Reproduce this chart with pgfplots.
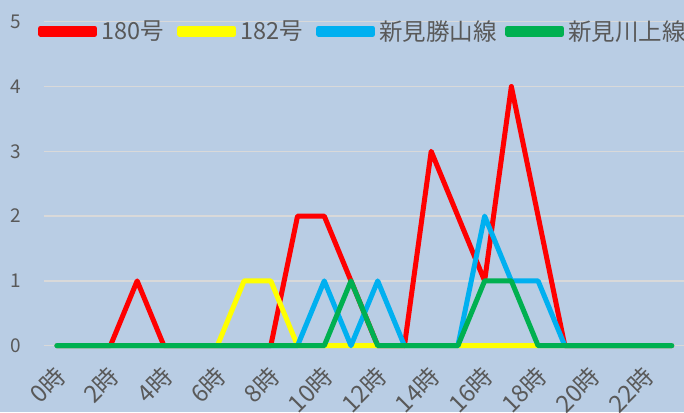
\documentclass[border=0pt]{standalone}
\usepackage{fontspec}
\setmainfont{Noto Sans CJK JP}
\usepackage{pgfplots}
\pgfplotsset{compat=1.18}
\definecolor{bg}{RGB}{185,205,228}
\definecolor{gridc}{RGB}{217,217,217}
\definecolor{txt}{RGB}{89,89,89}
\definecolor{cred}{RGB}{255,0,0}
\definecolor{cyel}{RGB}{255,255,0}
\definecolor{cblue}{RGB}{0,176,240}
\definecolor{cgreen}{RGB}{0,176,80}
\begin{document}
\begin{tikzpicture}
\fill[bg] (0,0) rectangle (684pt,412pt);
\path[use as bounding box] (0,0) rectangle (684pt,412pt);
\begin{axis}[
  at={(43.6pt,66.3pt)}, anchor=south west,
  scale only axis, width=641.5pt, height=324pt,
  xmin=-0.5, xmax=23.5, ymin=0, ymax=5,
  clip=false,
  axis line style={draw=none},
  major tick length=0pt,
  xtick={0,2,...,22},
  xticklabels={0時,2時,4時,6時,8時,10時,12時,14時,16時,18時,20時,22時},
  ytick={0,1,2,3,4,5},
  ymajorgrids, grid style={color=gridc, line width=1.3pt},
  /pgf/number format/assume math mode=true,
  yticklabel style={font=\fontsize{19}{19}\selectfont, color=txt, anchor=east, inner sep=0pt, xshift=-22pt},
  xticklabel style={font=\fontsize{24}{24}\selectfont, color=txt, xshift=-4pt, yshift=-18pt, rotate=45, anchor=north east, inner sep=0pt},
  legend columns=4,
  legend style={at={(-0.0087,0.971)}, anchor=west, draw=none, fill=none, inner sep=0pt,
    font=\fontsize{23.5}{23.5}\selectfont, text=txt,
    nodes={inner sep=0pt},
    /tikz/every odd column/.style={column sep=4pt},
    /tikz/every even column/.style={column sep=8pt}},
  legend image code/.code={\path (0pt,-3pt) rectangle (54pt,3pt);
    \draw[#1, line cap=round] (2.5pt,0pt) -- (51.5pt,0pt);},
  every axis plot/.append style={line width=5pt, line join=round, line cap=round, mark=none},
]
\addplot[cred] coordinates {(0,0)(1,0)(2,0)(3,1)(4,0)(5,0)(6,0)(7,0)(8,0)(9,2)(10,2)(11,1)(12,0)(13,0)(14,3)(15,2)(16,1)(17,4)(18,2)(19,0)(20,0)(21,0)(22,0)(23,0)};
\addlegendentry{\makebox[68pt][l]{180号}}
\addplot[cyel] coordinates {(0,0)(1,0)(2,0)(3,0)(4,0)(5,0)(6,0)(7,1)(8,1)(9,0)(10,0)(11,0)(12,0)(13,0)(14,0)(15,0)(16,0)(17,0)(18,0)(19,0)(20,0)(21,0)(22,0)(23,0)};
\addlegendentry{\makebox[68pt][l]{182号}}
\addplot[cblue] coordinates {(0,0)(1,0)(2,0)(3,0)(4,0)(5,0)(6,0)(7,0)(8,0)(9,0)(10,1)(11,0)(12,1)(13,0)(14,0)(15,0)(16,2)(17,1)(18,1)(19,0)(20,0)(21,0)(22,0)(23,0)};
\addlegendentry{\makebox[118pt][l]{新見勝山線}}
\addplot[cgreen] coordinates {(0,0)(1,0)(2,0)(3,0)(4,0)(5,0)(6,0)(7,0)(8,0)(9,0)(10,0)(11,1)(12,0)(13,0)(14,0)(15,0)(16,1)(17,1)(18,0)(19,0)(20,0)(21,0)(22,0)(23,0)};
\addlegendentry{新見川上線}
\end{axis}
\end{tikzpicture}
\end{document}
